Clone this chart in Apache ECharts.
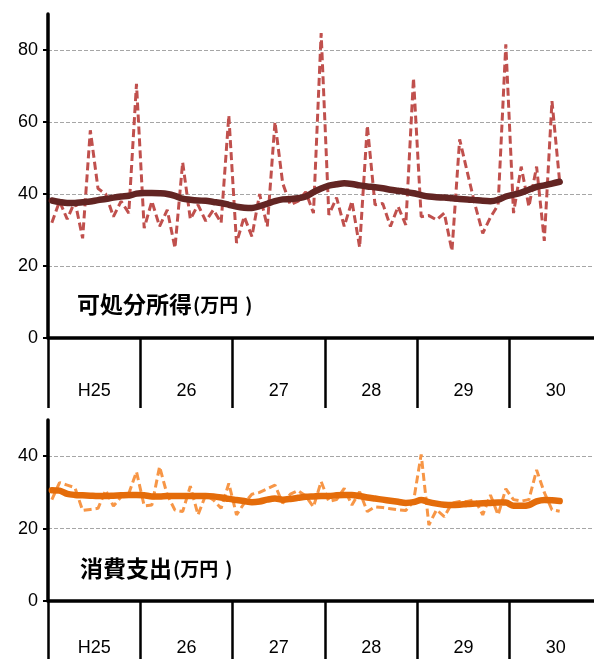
<!DOCTYPE html>
<html><head><meta charset="utf-8">
<script src="https://cdn.jsdelivr.net/npm/echarts@6/dist/echarts.min.js"></script>
<style>html,body{margin:0;padding:0;background:#fff;overflow:hidden}#c{width:602px;height:659px}</style>
</head><body><div id="c"></div>
<script>
// 72 monthly slots: H25.1 .. H30.12
const years = ['H25', '26', '27', '28', '29', '30'];
const months = [];
years.forEach(y => { for (let m = 1; m <= 12; m++) months.push(y + '-' + m); });

// 可処分所得 (万円) monthly
const incomeMonthly = [32, 38, 33, 38, 27.7, 57.7, 41.5, 40, 33.7, 38, 34.7, 70.6,
  30.5, 38, 31, 35.6, 25, 48.8, 33, 37, 32.5, 35.6, 32, 61.8,
  26.4, 33.7, 28.2, 40, 31, 60, 43, 37, 38, 40.6, 34.7, 84.7,
  34.2, 39, 31, 38, 25.2, 59, 37, 37.4, 31, 36.5, 31.4, 72.2,
  33.7, 34, 32.8, 34.7, 24.2, 55.2, 46, 37, 29.1, 33.5, 37, 81.6,
  34.7, 47.6, 36.5, 47.6, 27, 65.8, 43.3];
// 可処分所得 trend
const incomeTrend = [38.2, 37.8, 37.5, 37.5, 37.7, 37.9, 38.3, 38.6, 39, 39.3, 39.5, 40.1,
  40.3, 40.3, 40.2, 40, 39.5, 38.7, 38.4, 38.2, 38.1, 37.8, 37.5, 37,
  36.5, 36.2, 36.1, 36.6, 37.3, 38, 38.5, 38.6, 38.8, 39.3, 40.5, 41.5,
  42.3, 42.7, 43, 42.8, 42.4, 42.1, 41.9, 41.6, 41.2, 40.9, 40.6, 40.2,
  39.7, 39.3, 39.1, 39, 38.8, 38.6, 38.5, 38.3, 38.1, 38, 38.4, 39.3,
  39.8, 40.4, 41.2, 42, 42.4, 42.9, 43.4];
// 消費支出 (万円) monthly
const spendMonthly = [28, 32.7, 32, 31.3, 25, 25.3, 25.6, 30.6, 26.2, 28.8, 29.7, 35.7,
  26.3, 26.5, 37.1, 29.3, 25.1, 24.7, 31.7, 23.8, 29.3, 27.9, 25.6, 32.5,
  23.8, 27, 29.5, 30, 31, 32, 27, 29.5, 30.5, 29, 26, 33,
  27.5, 28, 31.1, 26.5, 30.2, 24.7, 26, 25.8, 25.5, 25.2, 25, 27.5,
  40.5, 21, 25.2, 23.3, 27, 27.5, 27.5, 28, 23.8, 29.3, 23.8, 31,
  28, 27.6, 28, 36.2, 30, 25.2, 24.8];
// 消費支出 trend
const spendTrend = [30.6, 30.5, 29.6, 29.3, 29.2, 29.1, 29, 29, 29.1, 29.2, 29.3, 29.3,
  29.2, 28.9, 28.9, 29, 29, 29, 29, 29, 29, 28.9, 28.6, 28.2,
  27.9, 27.6, 27.3, 27.5, 28, 28.3, 28, 28.2, 28.5, 28.8, 28.9, 29,
  29, 29.2, 29.3, 29.3, 29, 28.6, 28.3, 28, 27.7, 27.4, 27.1, 27.3,
  27.9, 27.3, 26.9, 26.6, 26.5, 26.6, 26.8, 26.9, 27, 27.1, 27.2, 27.2,
  26.3, 26.3, 26.5, 27.5, 27.9, 27.8, 27.6];

const topTicks = [0, 20, 40, 60, 80];
const botTicks = [0, 20, 40];
const topGrid = [20, 40, 60, 80];
const botGrid = [20, 40];

const FONT = '"Liberation Sans", "Noto Sans CJK JP", sans-serif';
const JP = '"Noto Sans CJK JP", sans-serif';

function yearAxis(gi, tickLen, margin) {
  return {
    gridIndex: gi, type: 'category', data: years, boundaryGap: true, position: 'bottom',
    axisLine: { show: true, lineStyle: { color: '#000', width: 3.5 } },
    axisTick: { show: true, length: tickLen, lineStyle: { color: '#000', width: 2.5 } },
    axisLabel: { margin: margin, fontSize: 18, color: '#000', fontFamily: FONT }
  };
}
function monthAxis(gi) {
  return { gridIndex: gi, type: 'category', data: months, boundaryGap: true, position: 'bottom', show: false };
}
function yAxis(gi, max, ticks) {
  return {
    gridIndex: gi, type: 'value', min: 0, max: max, interval: 20,
    axisLine: { show: true, lineStyle: { color: '#000', width: 3.5 } },
    axisTick: { show: true, length: 5, customValues: ticks, lineStyle: { color: '#000', width: 2 } },
    axisLabel: { customValues: ticks, fontSize: 18, color: '#000', margin: 10, fontFamily: FONT },
    splitLine: { show: false }
  };
}
function gridSeries(xi, yi, vals) {
  return {
    type: 'line', xAxisIndex: xi, yAxisIndex: yi, data: [], z: 0, silent: true,
    markLine: {
      silent: true, symbol: 'none', label: { show: false }, z: 0,
      lineStyle: { type: 'dashed', color: '#a6a6a6', width: 1 },
      emphasis: { disabled: true },
      data: vals.map(v => ({ yAxis: v }))
    }
  };
}
function dashSeries(xi, yi, data, color) {
  return {
    type: 'line', xAxisIndex: xi, yAxisIndex: yi, data: data, symbol: 'none', z: 3, silent: true,
    lineStyle: { color: color, width: 3, type: [8, 4] }
  };
}
function trendSeries(xi, yi, data, color) {
  return {
    type: 'line', xAxisIndex: xi, yAxisIndex: yi, data: data, symbol: 'none', z: 4, silent: true,
    smooth: 0.3,
    lineStyle: { color: color, width: 6.5, cap: 'round', join: 'round' }
  };
}
const titleRich = {
  a: { fontSize: 23, fontWeight: 'bold', color: '#000', fontFamily: JP },
  b: { fontSize: 19, fontWeight: 'bold', color: '#000', fontFamily: JP, padding: [0, 0, 0, 1] },
  c: { fontSize: 19, fontWeight: 'bold', color: '#000', fontFamily: JP, padding: [0, 0, 0, 7] }
};

const chart = echarts.init(document.getElementById('c'), null, { renderer: 'canvas' });
chart.setOption({
  animation: false,
  backgroundColor: '#fff',
  title: [
    { left: 72, top: 288, text: '{a|可処分所得}{b|(万円}{c|)}', textStyle: { rich: titleRich } },
    { left: 75, top: 552, text: '{a|消費支出}{b|(万円}{c|)}', textStyle: { rich: titleRich } }
  ],
  grid: [
    { left: 48, right: 0, top: 14, bottom: 321 },
    { left: 48, right: 0, top: 420, bottom: 58 }
  ],
  xAxis: [monthAxis(0), yearAxis(0, 70, 44), monthAxis(1), yearAxis(1, 60, 38)],
  yAxis: [yAxis(0, 90, topTicks), yAxis(1, 50, botTicks)],
  series: [
    gridSeries(0, 0, topGrid),
    dashSeries(0, 0, incomeMonthly, '#C0504D'),
    trendSeries(0, 0, incomeTrend, '#632523'),
    gridSeries(2, 1, botGrid),
    dashSeries(2, 1, spendMonthly, '#F79646'),
    trendSeries(2, 1, spendTrend, '#E46C0A')
  ]
});
</script>
</body></html>
